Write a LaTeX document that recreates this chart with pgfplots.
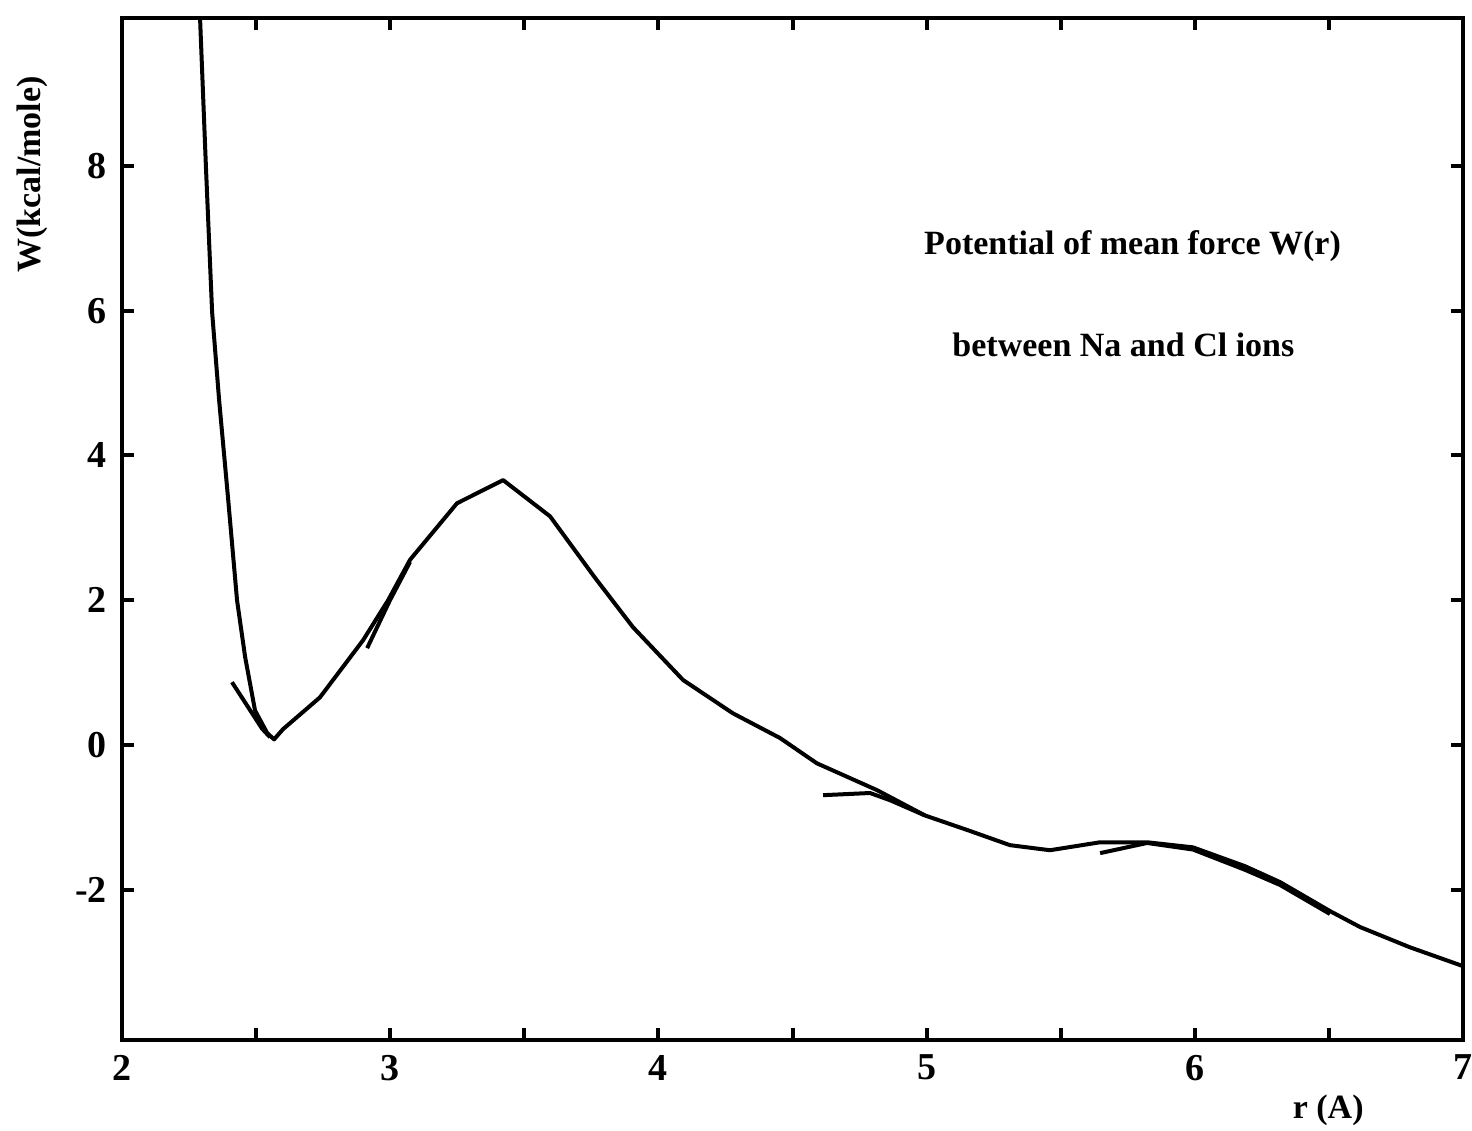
\documentclass[border=0pt]{standalone}
\usepackage{fontspec}
\setmainfont{Liberation Serif}
\usepackage{pgfplots}
\pgfplotsset{compat=1.18}
\begin{document}
\begin{tikzpicture}
\useasboundingbox (-61pt,-45pt) rectangle (675pt,520pt);
\begin{axis}[
  at={(0,0)}, anchor=south west,
  scale only axis,
  width=670.5pt, height=511pt,
  xmin=2, xmax=7, ymin=-4.07, ymax=10.04,
  axis line style={line width=2.4pt},
  tick style={line width=2pt, black},
  tick align=inside,
  major tick length=6pt, minor tick length=6pt,
  xtick={2,3,4,5,6,7},
  xticklabels={2,3,4,5,6,7},
  minor xtick={2.5,3.5,4.5,5.5,6.5},
  ytick={-2,0,2,4,6,8},
  yticklabels={-2,0,2,4,6,8},
  tick label style={font=\fontsize{19}{21}\selectfont\bfseries},
  xticklabel style={yshift=-4pt},
  yticklabel style={xshift=-4pt},
  xlabel={r (A)},
  ylabel={W(kcal/mole)},
  every axis x label/.style={at={(rel axis cs:0.8995,0)}, yshift=-35pt, anchor=center, font=\fontsize{17}{19}\selectfont\bfseries},
  every axis y label/.style={at={(rel axis cs:0,0.847)}, xshift=-45pt, rotate=90, anchor=center, font=\fontsize{17}{19}\selectfont\bfseries},
  clip=true,
]
\addplot[black, line width=2pt, line join=round] coordinates {
(2.291,10.04) (2.313,7.98) (2.336,5.98) (2.362,4.77) (2.395,3.43) (2.429,2.00)
(2.459,1.22) (2.496,0.48) (2.541,0.17) (2.567,0.08) (2.600,0.22) (2.738,0.66)
(2.899,1.45) (2.992,2.00) (3.074,2.56) (3.249,3.34) (3.421,3.66) (3.596,3.16)
(3.764,2.31) (3.905,1.63) (4.092,0.90) (4.278,0.44) (4.453,0.10) (4.591,-0.25)
(4.815,-0.62) (4.994,-0.97) (5.151,-1.17) (5.311,-1.38) (5.460,-1.45) (5.647,-1.34)
(5.822,-1.34) (5.993,-1.41) (6.187,-1.67) (6.318,-1.89) (6.504,-2.29) (6.616,-2.51)
(6.802,-2.79) (7.0,-3.05)
};
\addplot[black, line width=2pt, line join=round] coordinates {
(2.410,0.87) (2.522,0.23) (2.552,0.11)
};
\addplot[black, line width=2pt, line join=round] coordinates {
(2.914,1.34) (2.999,2.0) (3.074,2.53)
};
\addplot[black, line width=2pt, line join=round] coordinates {
(4.614,-0.69) (4.789,-0.66) (4.864,-0.76) (4.994,-0.97)
};
\addplot[black, line width=2pt, line join=round] coordinates {
(5.647,-1.49) (5.822,-1.35) (5.993,-1.44) (6.187,-1.72) (6.318,-1.93) (6.504,-2.33)
};
\node[anchor=base, font=\fontsize{17}{19}\selectfont\bfseries] at (axis cs:5.768,6.77) {Potential of mean force W(r)};
\node[anchor=base, font=\fontsize{17}{19}\selectfont\bfseries] at (axis cs:5.734,5.36) {between Na and Cl ions};
\end{axis}
\end{tikzpicture}
\end{document}
